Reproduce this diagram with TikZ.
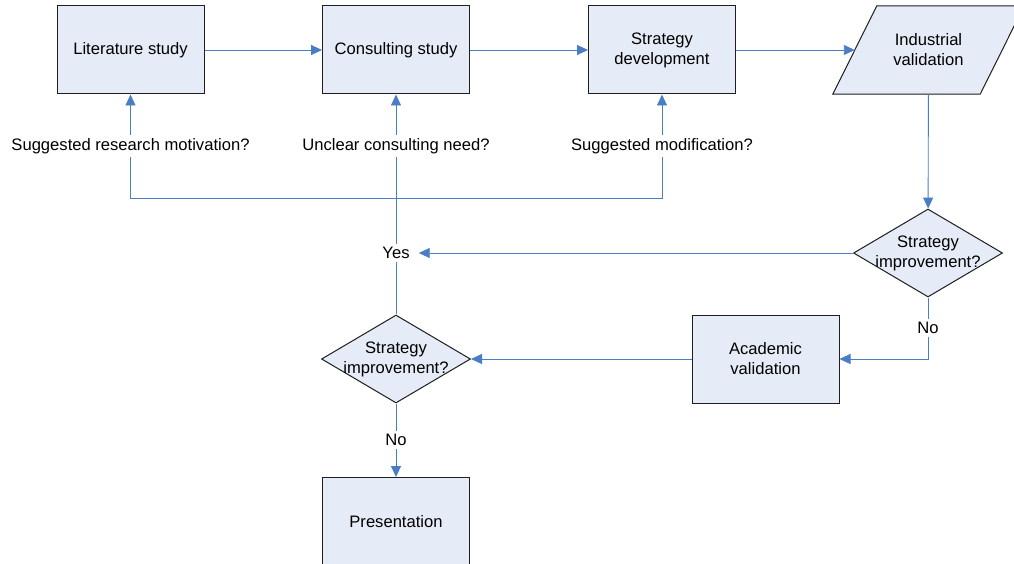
\documentclass[tikz,border=0pt]{standalone}
\usepackage{fontspec}
\setmainfont{Liberation Sans}
\usetikzlibrary{arrows.meta,shapes.geometric}
\definecolor{boxfill}{RGB}{230,236,247}
\definecolor{linkblue}{RGB}{74,126,196}
\definecolor{edge}{RGB}{30,30,30}
\begin{document}
\begin{tikzpicture}[x=1pt,y=-1pt,
  every node/.style={font=\fontsize{16.6pt}{20pt}\selectfont},
  box/.style={draw=edge,line width=1pt,fill=boxfill,minimum width=147pt,minimum height=88pt,align=center,inner sep=0pt},
  paratext/.style={minimum width=147pt,minimum height=88pt,align=center,inner sep=0pt},
  dia/.style={diamond,draw=edge,line width=1pt,fill=boxfill,minimum width=149pt,minimum height=88pt,inner sep=0pt},
  lbl/.style={fill=white,inner xsep=2pt,inner ysep=3pt},
  link/.style={draw=linkblue,line width=0.9pt,-{Triangle[length=11pt,width=10pt]}},
  plain/.style={draw=linkblue,line width=0.9pt}
]
\useasboundingbox[fill=white] (0,0) rectangle (1014,564);

% process boxes
\node[box] (lit)  at (130.5,50) {Literature study};
\node[box] (cons) at (396,50)   {Consulting study};
\node[box] (dev)  at (662,50)   {Strategy\\development};
\node[paratext] (ind) at (928.5,50) {};
\fill[boxfill] ([xshift=-22pt]ind.south west) -- ([xshift=-22pt]ind.south east)
  -- ([xshift=22pt]ind.north east) -- ([xshift=22pt]ind.north west) -- cycle;
\draw[edge,line width=1pt] ([xshift=-22pt]ind.south west) -- ([xshift=-22pt]ind.south east)
  -- ([xshift=22pt]ind.north east) -- ([xshift=22pt]ind.north west) -- cycle;
\node[align=center] at (ind) {Industrial\\validation};
\node[dia] (d1) at (928,253) {};
\node[align=center] at (d1) {Strategy\\improvement?};
\node[box] (acad) at (765.5,359) {Academic\\validation};
\node[dia] (d2) at (396,359) {};
\node[align=center] at (d2) {Strategy\\improvement?};
\node[box] (pres) at (396,521.5) {Presentation};

% connector labels
\node[lbl] (q1) at (130.5,146) {Suggested research motivation?};
\node[lbl] (q2) at (396,146) {Unclear consulting need?};
\node[lbl] (q3) at (662,146) {Suggested modification?};
\node[lbl,inner xsep=9pt] (yes) at (396,253) {Yes};
\node[lbl] (no1) at (928,328) {No};
\node[lbl] (no2) at (396,440) {No};
\coordinate (split) at (396,198);

% main flow
\draw[link] (lit) -- (cons);
\draw[link] (cons) -- (dev);
\draw[link] (dev) -- (ind);
\draw[link] (ind) -- (d1);
\draw[link] (d1) -- (yes);
\draw[link] (d1) -- (no1) |- (acad);
\draw[link] (acad) -- (d2);
\draw[link] (d2) -- (no2) -- (pres);

% feedback loops
\draw[link] (d2) -- (yes) -- (q2) -- (cons);
\draw[link] (split) -| (q1) -- (lit);
\draw[link] (split) -| (q3) -- (dev);
\end{tikzpicture}
\end{document}
